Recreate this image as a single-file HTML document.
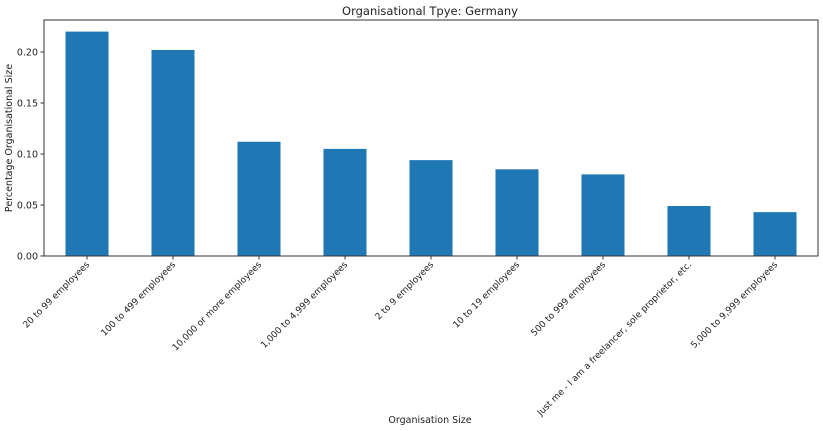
<!DOCTYPE html>
<html><head><meta charset="utf-8"><style>
body{margin:0;background:#fff;}
svg{display:block;font-family:"DejaVu Sans","Liberation Sans",sans-serif;}
</style></head><body>
<svg id="chart" width="823" height="431" viewBox="0 0 823 431">
<text x="430" y="15" font-size="11.5" text-anchor="middle" fill="#222">Organisational Tpye: Germany</text>
<text transform="translate(12,138) rotate(-90)" font-size="9.5" text-anchor="middle" fill="#222">Percentage Organisational Size</text>
<text x="430" y="423" font-size="9.5" text-anchor="middle" fill="#222">Organisation Size</text>
<g id="bars"></g><g id="yticks"></g><g id="xticks"></g>
<rect x="44" y="20" width="774" height="236" fill="none" stroke="#333" stroke-width="1"/>
</svg>
<script>
const categories=["20 to 99 employees","100 to 499 employees","10,000 or more employees","1,000 to 4,999 employees","2 to 9 employees","10 to 19 employees","500 to 999 employees","Just me - I am a freelancer, sole proprietor, etc.","5,000 to 9,999 employees"];
const values=[0.220,0.202,0.112,0.105,0.094,0.085,0.080,0.049,0.043];
const yTickValues=[0,0.05,0.10,0.15,0.20];
const yTickLabels=["0.00","0.05","0.10","0.15","0.20"];
const NS="http://www.w3.org/2000/svg";
const L=44,R=818,T=20,B=256,yMax=(B-T)/1020;
const n=categories.length,step=(R-L)/n;
function xPos(i){return L+step*(i+0.5);}
function yPos(v){return B-(v/yMax)*(B-T);}
function mk(tag,attrs,parent){const e=document.createElementNS(NS,tag);for(const k in attrs)e.setAttribute(k,attrs[k]);parent.appendChild(e);return e;}
const gb=document.getElementById('bars'),gy=document.getElementById('yticks'),gx=document.getElementById('xticks');
values.forEach((v,i)=>{
 const r=mk('rect',{x:xPos(i)-step/4,y:yPos(v),width:step/2,height:B-yPos(v),fill:'#1f77b4'},gb);
 
 
});
yTickValues.forEach((v,i)=>{
 const y=yPos(v);
 const l=mk('line',{x1:L-3.5,x2:L,y1:y,y2:y,stroke:'#333'},gy);
 
 
 const t=mk('text',{x:L-6,y:y+3.5,'font-size':'9.5','text-anchor':'end',fill:'#222'},gy);
 t.textContent=yTickLabels[i];
 
 
});
categories.forEach((c,i)=>{
 const x=xPos(i);
 const l=mk('line',{x1:x,x2:x,y1:B,y2:B+3.5,stroke:'#333'},gx);
 
 
 const t=mk('text',{transform:`translate(${x+3},${B+9}) rotate(-45)`,'font-size':'9','text-anchor':'end',fill:'#222'},gx);
 t.textContent=c;
 
 
});
</script>
</body></html>
